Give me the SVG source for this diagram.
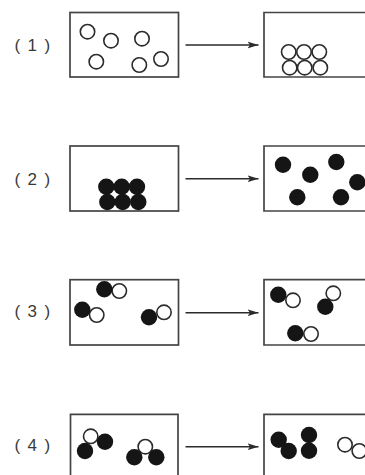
<svg xmlns="http://www.w3.org/2000/svg" width="365" height="475" viewBox="0 0 365 475">
<style>
.b{fill:none;stroke:#444;stroke-width:1.7}
.o{fill:#fff;stroke:#2b2b2b;stroke-width:1.6}
.k{fill:#151515}
.a{stroke:#2b2b2b;stroke-width:1.5;fill:none;marker-end:url(#h)}
text{font-family:"Liberation Sans",Arial,sans-serif;font-size:17px;fill:#3a3a3a;text-anchor:middle;letter-spacing:1.4px}
</style>
<defs>
<marker id="h" markerUnits="userSpaceOnUse" markerWidth="12" markerHeight="8" refX="11" refY="4" orient="auto"><path d="M0 0.6L11 4L0 7.400L2.500 4Z" fill="#2b2b2b"/></marker>
</defs>
<rect width="365" height="475" fill="#fff"/>
<g id="connectors">
<path class="a" d="M185.500 45H258.500"/>
<path class="a" d="M185.500 178.700H258.500"/>
<path class="a" d="M185.500 312.700H258.500"/>
<path class="a" d="M185.500 446.700H258.500"/>
</g>
<g id="label-1"><text x="33" y="51">( 1 )</text></g>
<g id="label-2"><text x="33" y="184.500">( 2 )</text></g>
<g id="label-3"><text x="33" y="316.500">( 3 )</text></g>
<g id="label-4"><text x="33" y="451">( 4 )</text></g>
<g id="box-1-left">
<rect class="b" x="70" y="12.500" width="108.500" height="64.500"/>
<g class="o"><circle cx="87.500" cy="31.700" r="7.200"/><circle cx="111" cy="40.700" r="7.200"/><circle cx="142" cy="38.700" r="7.200"/><circle cx="96.300" cy="61.700" r="7.200"/><circle cx="139.300" cy="65" r="7.200"/><circle cx="161" cy="59" r="7.200"/></g>
</g>
<g id="box-1-right">
<path class="b" d="M366 12.500H264V77H366"/>
<g class="o"><circle cx="288.700" cy="52" r="7.200"/><circle cx="304" cy="52" r="7.200"/><circle cx="319.300" cy="52" r="7.200"/><circle cx="289.700" cy="67.700" r="7.200"/><circle cx="304.700" cy="67.700" r="7.200"/><circle cx="320.300" cy="67.700" r="7.200"/></g>
</g>
<g id="box-2-left">
<rect class="b" x="70" y="146" width="108.500" height="65"/>
<g class="k"><circle cx="106.300" cy="186.700" r="8.200"/><circle cx="121.700" cy="186.700" r="8.200"/><circle cx="137" cy="186.700" r="8.200"/><circle cx="107.300" cy="202" r="8.200"/><circle cx="122.700" cy="202" r="8.200"/><circle cx="138.300" cy="202" r="8.200"/></g>
</g>
<g id="box-2-right">
<path class="b" d="M366 146H264V211H366"/>
<g class="k"><circle cx="283" cy="164.700" r="8.200"/><circle cx="310.300" cy="174.700" r="8.200"/><circle cx="336.300" cy="162" r="8.200"/><circle cx="357.300" cy="182.300" r="8.200"/><circle cx="297.300" cy="197.300" r="8.200"/><circle cx="341" cy="197.300" r="8.200"/></g>
</g>
<g id="box-3-left">
<rect class="b" x="70" y="279.700" width="108.500" height="65.300"/>
<g class="o"><circle cx="119.300" cy="291" r="7.200"/><circle cx="96.700" cy="315" r="7.200"/><circle cx="164" cy="312.300" r="7.200"/></g>
<g class="k"><circle cx="104.300" cy="289.300" r="8.200"/><circle cx="82.300" cy="309.700" r="8.200"/><circle cx="149" cy="317.300" r="8.200"/></g>
</g>
<g id="box-3-right">
<path class="b" d="M366 279.700H264V345H366"/>
<g class="o"><circle cx="293" cy="300.300" r="7.200"/><circle cx="333.300" cy="293.300" r="7.200"/><circle cx="311" cy="334" r="7.200"/></g>
<g class="k"><circle cx="278.300" cy="294.700" r="8.200"/><circle cx="325.300" cy="306.700" r="8.200"/><circle cx="295.300" cy="333.300" r="8.200"/></g>
</g>
<g id="box-4-left">
<path class="b" d="M70.500 476V414.300H178V476"/>
<g class="o"><circle cx="90.700" cy="436.300" r="7.200"/><circle cx="145.300" cy="446.700" r="7.200"/></g>
<g class="k"><circle cx="105" cy="441.700" r="8.200"/><circle cx="85" cy="451" r="8.200"/><circle cx="134.300" cy="457.300" r="8.200"/><circle cx="156.300" cy="457.300" r="8.200"/></g>
</g>
<g id="box-4-right">
<path class="b" d="M366 414.300H264V476"/>
<g class="k"><circle cx="278.700" cy="439.700" r="8.200"/><circle cx="288.700" cy="451" r="8.200"/><circle cx="309" cy="435" r="8.200"/><circle cx="309" cy="450.700" r="8.200"/></g>
<g class="o"><circle cx="345" cy="444.700" r="7.200"/><circle cx="359.300" cy="451" r="7.200"/></g>
</g>
</svg>
